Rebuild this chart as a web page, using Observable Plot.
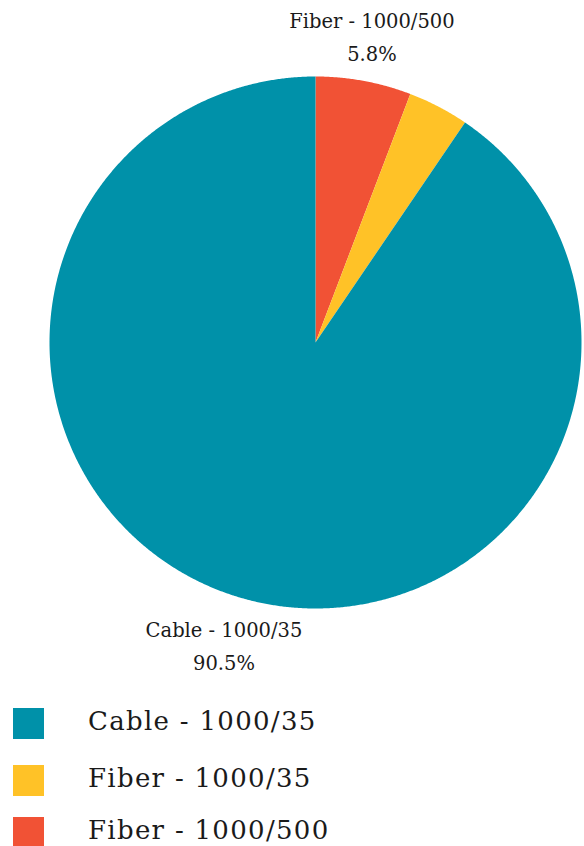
<!DOCTYPE html>
<html>
<head>
<meta charset="utf-8">
<script src="https://cdn.jsdelivr.net/npm/d3@7"></script>
<script src="https://cdn.jsdelivr.net/npm/@observablehq/plot@0.6"></script>
<style>
  body { margin: 0; background: #fff; font-family: "DejaVu Serif", serif; }
  #chart { width: 584px; }
  .legend { margin-top: 28px; }
  .row { display: flex; align-items: center; height: 31px; margin-bottom: 26px; }
  .row.r2 { margin-bottom: 21px; }
  .sw { width: 31px; height: 31px; margin-left: 13px; margin-right: 44px; flex: none; }
  .lbl { font-size: 26px; letter-spacing: 1.3px; color: #1a1a1a; line-height: 1; position: relative; top: -3px; }
</style>
</head>
<body>
<div id="chart"></div>
<script>
const categories = ["Fiber - 1000/500", "Fiber - 1000/35", "Cable - 1000/35"];
const shares = [5.8, 3.7, 90.5];
const colors = ["#f15235", "#ffc227", "#0091a9"];
const legendOrder = ["Cable - 1000/35", "Fiber - 1000/35", "Fiber - 1000/500"];
const labelled = ["Fiber - 1000/500", "Cable - 1000/35"];

const total = d3.sum(shares);
let acc = 0;
const slices = categories.map((name, i) => {
  const start = acc / total * 2 * Math.PI;
  acc += shares[i];
  const end = acc / total * 2 * Math.PI;
  return {name, value: shares[i], start, end, mid: (start + end) / 2};
});

const points = [];
for (const s of slices) {
  points.push({name: s.name, x: 0, y: 0});
  const n = Math.max(4, Math.ceil((s.end - s.start) / 0.005));
  for (let k = 0; k <= n; k++) {
    const a = s.start + (s.end - s.start) * k / n;
    points.push({name: s.name, x: Math.sin(a), y: Math.cos(a)});
  }
  points.push({name: s.name, x: 0, y: 0});
}

const labelR = 1.17;
const labels = slices.filter(s => labelled.includes(s.name)).map(s => ({
  x: labelR * Math.sin(s.mid),
  y: labelR * Math.cos(s.mid) + (s.name.startsWith("Cable") ? -0.01 : 0.01),
  text: `${s.name}\n${s.value.toFixed(1)}%`
}));

const plot = Plot.plot({
  width: 584,
  height: 680,
  marginLeft: 49,
  marginRight: 3,
  marginTop: 76,
  marginBottom: 72,
  x: {domain: [-1, 1], axis: null},
  y: {domain: [-1, 1], axis: null},
  color: {domain: categories, range: colors},
  style: {fontFamily: "DejaVu Serif, serif", background: "white", overflow: "visible"},
  marks: [
    Plot.line(points, {x: "x", y: "y", z: "name", fill: "name", stroke: null, curve: "linear"}),
    Plot.text(labels, {x: "x", y: "y", text: "text", fontSize: 19.5, lineHeight: 1.72, fill: "#1a1a1a", lineAnchor: "middle"})
  ]
});
document.getElementById("chart").appendChild(plot);

const legend = document.createElement("div");
legend.className = "legend";
legendOrder.forEach((name, i) => {
  const row = document.createElement("div");
  row.className = "row" + (i === 1 ? " r2" : "");
  const sw = document.createElement("div");
  sw.className = "sw";
  sw.style.background = colors[categories.indexOf(name)];
  const lbl = document.createElement("span");
  lbl.className = "lbl";
  lbl.textContent = name;
  row.appendChild(sw);
  row.appendChild(lbl);
  legend.appendChild(row);
});
document.getElementById("chart").appendChild(legend);
</script>
</body>
</html>
